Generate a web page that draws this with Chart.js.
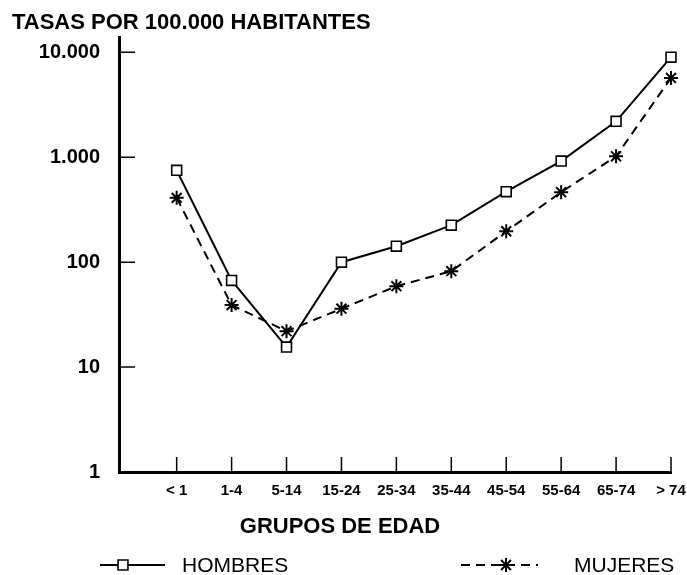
<!DOCTYPE html>
<html>
<head>
<meta charset="utf-8">
<script src="https://cdn.jsdelivr.net/npm/chart.js@4/dist/chart.umd.min.js"></script>
<style>
  html, body { margin: 0; padding: 0; background: #fff; }
  #wrap { width: 687px; height: 575px; }
</style>
</head>
<body>
<div id="wrap"><canvas id="grafico"></canvas></div>
<script>
"use strict";
// datos
const gruposEdad = ['< 1', '1-4', '5-14', '15-24', '25-34', '35-44', '45-54', '55-64', '65-74', '> 74'];
const hombres = [750, 67, 15.5, 100, 142, 225, 470, 920, 2200, 9000];
const mujeres = [410, 39, 22, 36, 59, 82, 197, 465, 1020, 5700];
const yTicks = [1, 10, 100, 1000, 10000];
const yTickLabels = ['1', '10', '100', '1.000', '10.000'];
const leyenda = ['HOMBRES', 'MUJERES'];

const FONT = "'Liberation Sans', Arial, Helvetica, sans-serif";

// marcas de escala hacia dentro del grafico
const marcasInternas = {
    id: 'marcasInternas',
    beforeDatasetsDraw(chart) {
        const { ctx, chartArea, scales } = chart;
        ctx.save();
        ctx.strokeStyle = '#000';
        ctx.lineWidth = 1.5;
        ctx.beginPath();
        scales.y.ticks.forEach((t) => {
            const py = scales.y.getPixelForValue(t.value);
            ctx.moveTo(chartArea.left, py);
            ctx.lineTo(chartArea.left + 16, py);
        });
        scales.x.ticks.forEach((t) => {
            const px = scales.x.getPixelForValue(t.value);
            ctx.moveTo(px, chartArea.bottom);
            ctx.lineTo(px, chartArea.bottom - 15);
        });
        ctx.stroke();
        ctx.restore();
    }
};

// titulos y leyenda
const textos = {
    id: 'textos',
    afterDraw(chart) {
        const ctx = chart.ctx;
        ctx.save();
        ctx.fillStyle = '#000';
        ctx.font = 'bold 22px ' + FONT;
        ctx.textBaseline = 'middle';
        ctx.textAlign = 'left';
        ctx.fillText('TASAS POR 100.000 HABITANTES', 12, 23);

        ctx.textAlign = 'center';
        ctx.fillText('GRUPOS DE EDAD', 340, 527);

        ctx.textAlign = 'left';
        const items = [
            { x0: 100, x1: 165, mx: 123, tx: 182 },
            { x0: 461, x1: 538, mx: 506, tx: 574 }
        ];
        const y = 565;
        chart.data.datasets.forEach((ds, i) => {
            const it = items[i];
            ctx.save();
            ctx.strokeStyle = '#000';
            ctx.lineWidth = ds.borderWidth;
            ctx.setLineDash(ds.borderDash || []);
            ctx.beginPath();
            ctx.moveTo(it.x0, y);
            ctx.lineTo(it.x1, y);
            ctx.stroke();
            ctx.setLineDash([]);
            ctx.fillStyle = ds.pointBackgroundColor;
            ctx.strokeStyle = '#000';
            ctx.lineWidth = ds.pointBorderWidth;
            Chart.helpers.drawPoint(ctx, {
                pointStyle: ds.pointStyle,
                radius: ds.pointRadius,
                rotation: 0,
                borderWidth: ds.pointBorderWidth
            }, it.mx, y);
            ctx.restore();
            ctx.fillStyle = '#000';
            ctx.font = '21px ' + FONT;
            ctx.fillText(leyenda[i], it.tx, y + 1);
        });
        ctx.restore();
    }
};

const toPoints = (arr) => arr.map((v, i) => ({ x: i, y: v }));

new Chart(document.getElementById('grafico'), {
    type: 'line',
    data: {
        datasets: [
            {
                label: leyenda[0],
                data: toPoints(hombres),
                borderColor: '#000',
                borderWidth: 2,
                pointStyle: 'rect',
                pointRadius: 7,
                pointBorderWidth: 1.6,
                pointBackgroundColor: '#fff',
                pointBorderColor: '#000',
                tension: 0,
                clip: false
            },
            {
                label: leyenda[1],
                data: toPoints(mujeres),
                borderColor: '#000',
                borderWidth: 2,
                borderDash: [9, 6],
                pointStyle: 'star',
                pointRadius: 7,
                pointBorderWidth: 2,
                pointBackgroundColor: '#000',
                pointBorderColor: '#000',
                tension: 0,
                clip: false
            }
        ]
    },
    options: {
        responsive: true,
        maintainAspectRatio: false,
        animation: false,
        layout: { padding: { top: 37, left: 0, right: 0, bottom: 35 } },
        plugins: {
            legend: { display: false },
            tooltip: { enabled: false }
        },
        scales: {
            x: {
                type: 'linear',
                min: -1.05,
                max: 9,
                afterBuildTicks: (scale) => {
                    scale.ticks = gruposEdad.map((g, i) => ({ value: i }));
                },
                afterFit: (scale) => {
                    scale.height = 68;
                    scale.paddingLeft = 0;
                    scale.paddingRight = 16;
                },
                grid: { display: false, drawTicks: false },
                border: { display: true, color: '#000', width: 3 },
                ticks: {
                    color: '#000',
                    padding: 10,
                    maxRotation: 0,
                    autoSkip: false,
                    font: { family: FONT, size: 15, weight: 'bold' },
                    callback: (v) => gruposEdad[v]
                }
            },
            y: {
                type: 'logarithmic',
                min: 1,
                max: 14000,
                afterBuildTicks: (scale) => {
                    scale.ticks = yTicks.map((v) => ({ value: v }));
                },
                afterFit: (scale) => { scale.width = 119; },
                grid: { display: false, drawTicks: false },
                border: { display: true, color: '#000', width: 3 },
                ticks: {
                    color: '#000',
                    padding: 19,
                    autoSkip: false,
                    font: { family: FONT, size: 20, weight: 'bold' },
                    callback: (v) => yTickLabels[yTicks.indexOf(v)]
                }
            }
        }
    },
    plugins: [marcasInternas, textos]
});
</script>
</body>
</html>
